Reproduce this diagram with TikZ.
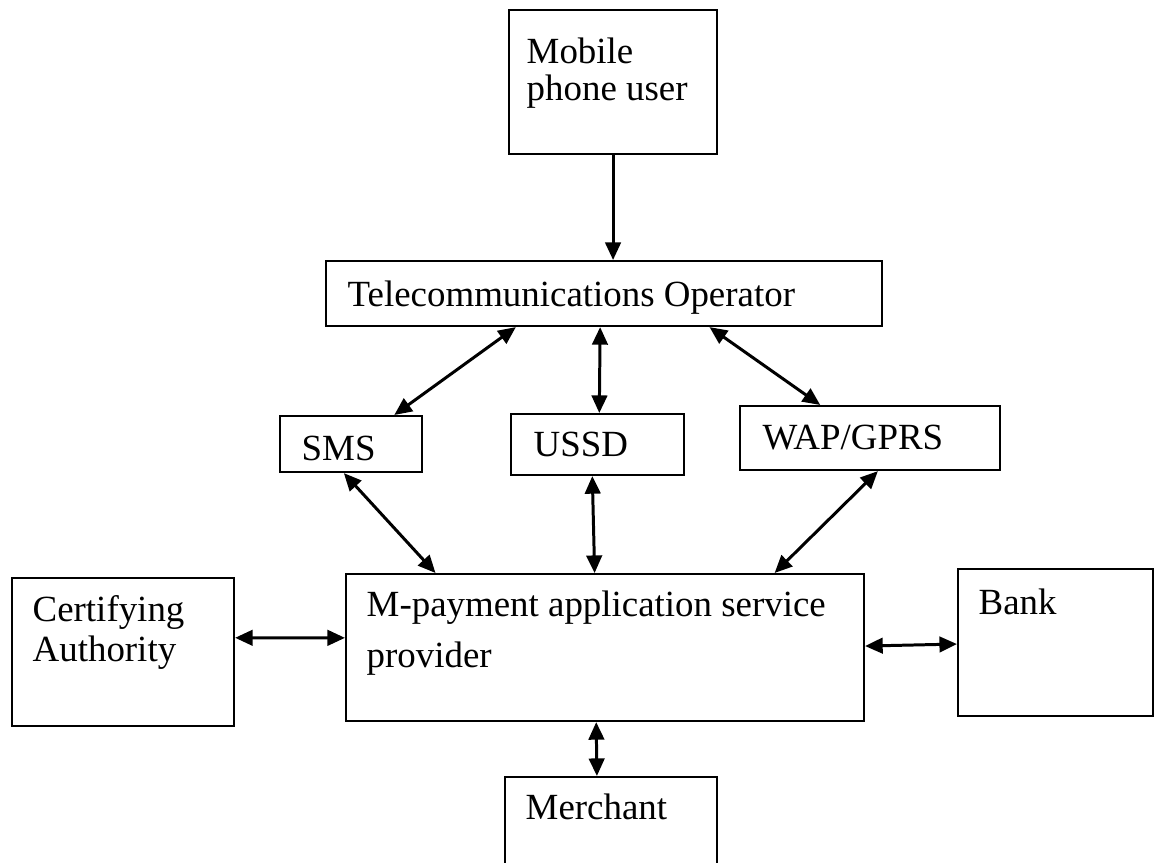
\documentclass[tikz,border=0pt]{standalone}
\usepackage{fontspec}
\setmainfont{Liberation Serif}
\usetikzlibrary{arrows.meta,calc,positioning}
\tikzset{
  box/.style={draw,rectangle,inner sep=0pt,anchor=north west,line width=0.6pt},
  lbl/.style={inner sep=0pt,anchor=base west,font=\fontsize{10.5}{12}\selectfont},
  link/.style={<->,line width=0.85pt}
}

\begin{document}
\begin{tikzpicture}[>={Triangle[length=5pt,width=4.4pt]}]
  \useasboundingbox (0,0) rectangle (11.59,8.62);
  \clip (0,0) rectangle (11.59,8.62);

  \node[box,minimum width=2.08cm,minimum height=1.44cm] (mob) at (5.08,8.53) {};
  \node[box,minimum width=5.56cm,minimum height=0.65cm] (tel) at (3.25,6.02) {};
  \node[box,minimum width=1.42cm,minimum height=0.56cm] (sms) at (2.79,4.47) {};
  \node[box,minimum width=1.73cm,minimum height=0.61cm] (ussd) at (5.10,4.49) {};
  \node[box,minimum width=2.60cm,minimum height=0.64cm] (wap) at (7.39,4.57) {};
  \node[box,minimum width=2.22cm,minimum height=1.48cm] (cert) at (0.11,2.85) {};
  \node[box,minimum width=5.18cm,minimum height=1.47cm] (mpay) at (3.45,2.89) {};
  \node[box,minimum width=1.95cm,minimum height=1.47cm] (bank) at (9.57,2.94) {};
  \node[box,minimum width=2.12cm,minimum height=1.30cm] (merch) at (5.04,0.86) {};

  % texts
  \node[lbl] (mobA) at ([shift={(0.18,-0.54)}]mob.north west) {Mobile};
  \node[lbl] (mobB) at ([shift={(0.18,-0.91)}]mob.north west) {phone user};
  \node[lbl] (telA) at ([shift={(0.22,-0.46)}]tel.north west) {Telecommunications Operator};
  \node[lbl] (smsA) at ([shift={(0.22,-0.45)}]sms.north west) {SMS};
  \node[lbl] (ussdA) at ([shift={(0.23,-0.44)}]ussd.north west) {USSD};
  \node[lbl] (wapA) at ([shift={(0.23,-0.44)}]wap.north west) {WAP/GPRS};
  \node[lbl] (certA) at ([shift={(0.21,-0.45)}]cert.north west) {Certifying};
  \node[lbl] (certB) at ([shift={(0.21,-0.85)}]cert.north west) {Authority};
  \node[lbl] (mpayA) at ([shift={(0.21,-0.44)}]mpay.north west) {M-payment application service};
  \node[lbl] (mpayB) at ([shift={(0.21,-0.94)}]mpay.north west) {provider};
  \node[lbl] (bankA) at ([shift={(0.21,-0.46)}]bank.north west) {Bank};
  \node[lbl] (merchA) at ([shift={(0.21,-0.44)}]merch.north west) {Merchant};

  % links
  \draw[->,line width=0.85pt] (mob.south) -- (mob.south |- tel.north);
  \draw[link] ($(tel.south west)!0.342!(tel.south east)$) -- ($(sms.north west)!0.80!(sms.north east)$);
  \draw[link] ($(tel.south west)!0.493!(tel.south east)$) -- ($(ussd.north west)!0.51!(ussd.north east)$);
  \draw[link] ($(tel.south west)!0.689!(tel.south east)$) -- ($(wap.north west)!0.31!(wap.north east)$);
  \draw[link] ($(sms.south west)!0.45!(sms.south east)$) -- ($(mpay.north west)!0.174!(mpay.north east)$);
  \draw[link] ($(ussd.south west)!0.47!(ussd.south east)$) -- ($(mpay.north west)!0.48!(mpay.north east)$);
  \draw[link] ($(wap.south west)!0.53!(wap.south east)$) -- ($(mpay.north west)!0.826!(mpay.north east)$);
  \draw[link] ($(cert.north east)!0.405!(cert.south east)$) -- ($(mpay.north west)!0.435!(mpay.south west)$);
  \draw[link] ($(mpay.north east)!0.49!(mpay.south east)$) -- ($(bank.north west)!0.51!(bank.south west)$);
  \draw[link] ($(mpay.south west)!0.483!(mpay.south east)$) -- ($(merch.north west)!0.434!(merch.north east)$);
\end{tikzpicture}
\end{document}
